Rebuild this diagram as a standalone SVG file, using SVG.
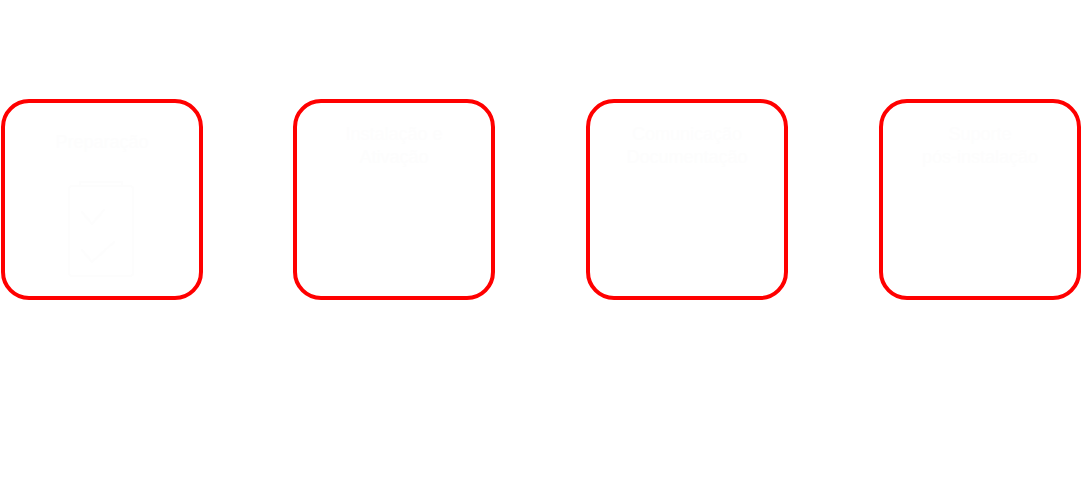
<svg xmlns="http://www.w3.org/2000/svg" width="1082" height="498" viewBox="0 0 1082 498">
<style>
.box{fill:#ffffff;stroke:#ff0000;stroke-width:4}
.lbl{font-family:"Liberation Sans",Arial,sans-serif;font-size:18px;fill:#fdfdfd;text-anchor:middle}
.ico{fill:none;stroke:#fdfdfd;stroke-width:2;stroke-linecap:round;stroke-linejoin:round}
</style>
<rect width="1082" height="498" fill="#ffffff"/>
<g id="node-1">
<rect class="box" x="3" y="101" width="198" height="197" rx="26"/>
<text class="lbl" x="102" y="148">Preparação</text>
<g class="ico"><rect x="69" y="186" width="64" height="90" rx="3"/><path d="M80 186v-4h42v4M82 212l10 12 12-14M82 250l10 12 22-20"/></g>
</g>
<g id="node-2">
<rect class="box" x="295" y="101" width="198" height="197" rx="26"/>
<text class="lbl" x="394" y="140">Instalação e</text>
<text class="lbl" x="394" y="163">Ativação</text>
</g>
<g id="node-3">
<rect class="box" x="588" y="101" width="198" height="197" rx="26"/>
<text class="lbl" x="687" y="140">Comunicação</text>
<text class="lbl" x="687" y="163">Documentação</text>
</g>
<g id="node-4">
<rect class="box" x="881" y="101" width="198" height="197" rx="26"/>
<text class="lbl" x="980" y="140">Suporte</text>
<text class="lbl" x="980" y="163">pós-instalação</text>
</g>
<g id="connectors"></g>
</svg>
